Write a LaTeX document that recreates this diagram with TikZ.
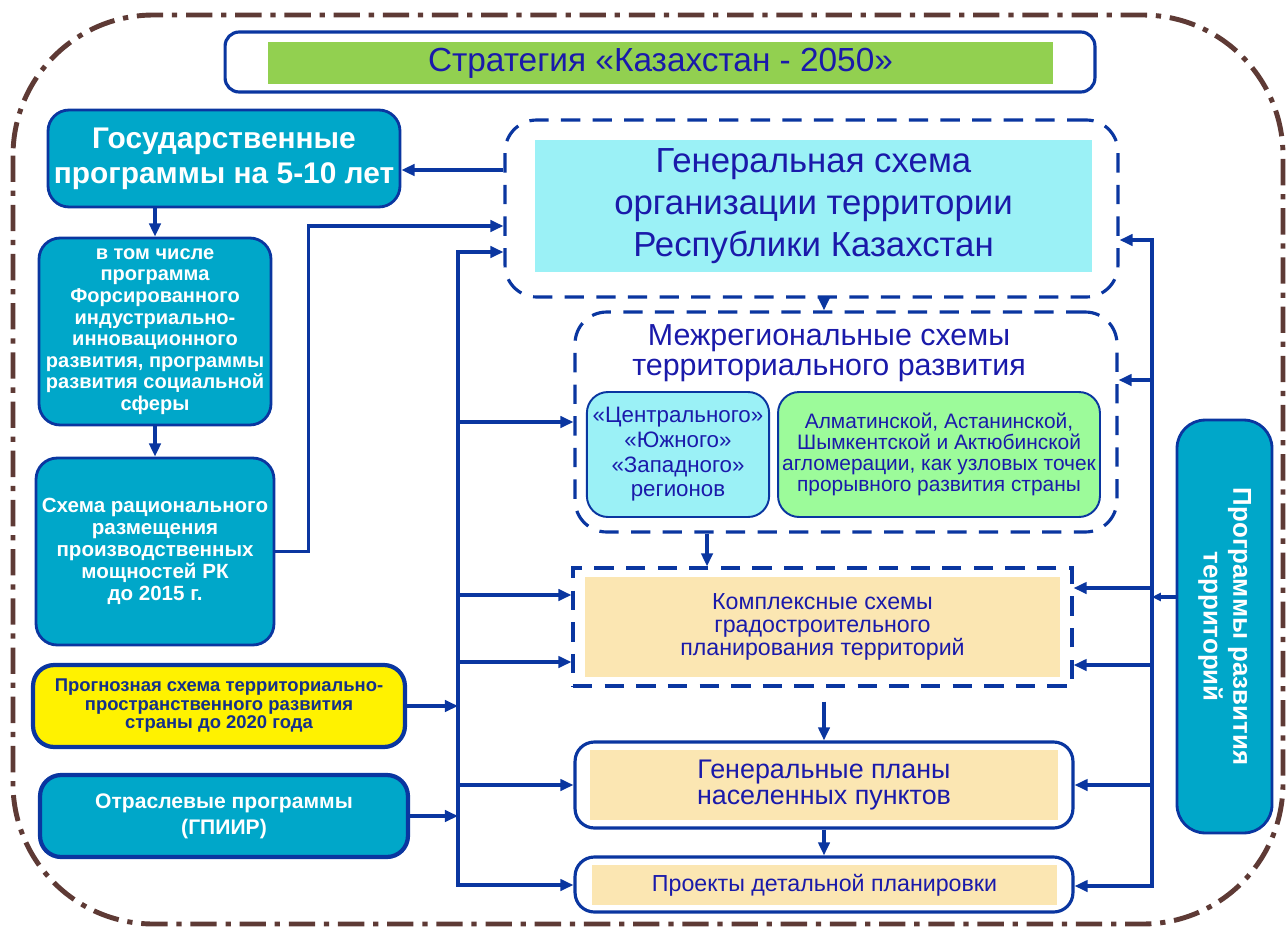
\documentclass[tikz,border=0pt]{standalone}
\usepackage{fontspec}
\usepackage{graphicx}
\setmainfont{Liberation Sans}
\usetikzlibrary{arrows.meta,positioning,calc}
\definecolor{lineblue}{HTML}{0A36A0}
\definecolor{txtblue}{HTML}{1A1AAA}
\definecolor{fcblue}{HTML}{14308A}
\definecolor{progteal}{HTML}{00A7C9}
\definecolor{cyanfill}{HTML}{9BF1F6}
\definecolor{beige}{HTML}{FBE6B2}
\definecolor{agglgreen}{HTML}{9CFB9A}
\definecolor{titlegreen}{HTML}{92D050}
\definecolor{rim}{HTML}{5E3A35}

\begin{document}
\begin{tikzpicture}[x=0.02cm,y=-0.02cm,
    prog/.style={draw=lineblue,line width=1.6pt,fill=progteal,rounded corners=12pt,
                 align=center,text=white,font=\bfseries},
    frame/.style={draw=lineblue,line width=1.8pt,fill=white,rounded corners=10pt},
    dframe/.style={frame,dash pattern=on 11pt off 7pt,rounded corners=18pt},
    inner/.style={fill=beige,align=center,text=txtblue},
    sub/.style={draw=lineblue,line width=1.1pt,rounded corners=12pt,align=center,text=txtblue},
    arr/.style={-{Triangle[length=7.5pt,width=6.5pt]},line width=1.8pt,draw=lineblue}
  ]
    \useasboundingbox (0,0) rectangle (1288,930);
    \draw[rim,line width=2.8pt,dash pattern=on 15pt off 5pt on 3pt off 5pt,rounded corners=80pt]
      (13,15) rectangle (1283,924);

    % top
    \node[frame,rounded corners=8pt,minimum width=17.4cm,minimum height=1.2cm] (titf) at (660,62) {};
    \node[fill=titlegreen,minimum width=15.7cm,minimum height=0.84cm,text=txtblue,
          font=\fontsize{19}{22}\selectfont] (tit) at (660.5,63) {Стратегия «Казахстан - 2050»};

    % left column
    \node[prog,minimum width=7.04cm,minimum height=1.94cm,font=\bfseries\fontsize{17}{20}\selectfont]
      (gos) at (224,158.5) {Государственные\\программы на 5-10 лет};
    \node[prog,minimum width=4.64cm,minimum height=3.74cm,font=\bfseries\fontsize{11.4}{12.3}\selectfont]
      (incl) at (155,331.5) {в том числе\\программа\\Форсированного\\индустриально-\\инновационного\\развития, программы\\развития социальной\\сферы};
    \node[prog,minimum width=4.68cm,minimum height=3.74cm,font=\bfseries\fontsize{11.7}{12.5}\selectfont]
      (srp) at (155,551.5) {Схема рационального\\размещения\\производственных\\мощностей РК\\до 2015 г.};
    \node[prog,fill=yellow,text=fcblue,line width=2.4pt,minimum width=7.44cm,minimum height=1.64cm,
          font=\bfseries\fontsize{10.5}{10.5}\selectfont]
      (fc) at (219,706) {Прогнозная схема территориально-\\пространственного развития\\страны до 2020 года};
    \node[prog,line width=2.4pt,minimum width=7.36cm,minimum height=1.64cm,font=\bfseries\fontsize{12}{15}\selectfont]
      (sec) at (224,816) {Отраслевые программы\\(ГПИИР)};

    % middle column
    \node[dframe,minimum width=12.26cm,minimum height=3.54cm] (gsf) at (811.5,208.5) {};
    \node[inner,fill=cyanfill,minimum width=11.14cm,minimum height=2.64cm,font=\fontsize{19.8}{24}\selectfont]
      (gs) at (813.5,206) {Генеральная схема\\организации территории\\Республики Казахстан};

    \node[dframe,minimum width=10.84cm,minimum height=4.4cm] (irf) at (846,422) {};
    \node[text=txtblue,align=center,font=\fontsize{17.3}{17}\selectfont]
      (ir) at (829,353) {Межрегиональные схемы\\территориального развития};
    \node[sub,fill=cyanfill,minimum width=3.6cm,minimum height=2.5cm,font=\fontsize{12.7}{14}\selectfont]
      (reg) at (678,454.5) {«Центрального»\\«Южного»\\«Западного»\\регионов};
    \node[sub,fill=agglgreen,minimum width=6.44cm,minimum height=2.5cm,inner sep=1pt,font=\fontsize{11.9}{11.8}\selectfont]
      (agl) at (939,454.5) {Алматинской, Астанинской,\\Шымкентской и Актюбинской\\агломерации, как узловых точек\\прорывного развития страны};

    \node[frame,sharp corners,dash pattern=on 11pt off 7pt,minimum width=9.98cm,minimum height=2.36cm]
      (kf) at (822.5,627) {};
    \node[inner,minimum width=9.5cm,minimum height=2cm,font=\fontsize{13.2}{13.3}\selectfont]
      (kp) at (822.5,627) {Комплексные схемы\\градостроительного\\планирования территорий};

    \node[frame,rounded corners=11pt,minimum width=9.96cm,minimum height=1.72cm] (gpf) at (824,785) {};
    \node[inner,minimum width=9.36cm,minimum height=1.4cm,font=\fontsize{15.3}{14.7}\selectfont]
      (gp) at (824,785) {Генеральные планы\\населенных пунктов};

    \node[frame,rounded corners=11pt,minimum width=9.96cm,minimum height=1.1cm] (pdf) at (824,884.5) {};
    \node[inner,minimum width=9.3cm,minimum height=0.8cm,font=\fontsize{13.2}{14}\selectfont]
      (pd) at (824.5,885) {Проекты детальной планировки};

    % right column
    \node[prog,rounded corners=16pt,minimum width=1.9cm,minimum height=8.26cm] (rp) at (1224.5,626.5)
      {\rotatebox{-90}{\fontsize{14.7}{17}\selectfont\begin{tabular}{@{}c@{}}Программы развития\\территорий\end{tabular}}};

    % buses
    \coordinate (lbtop) at (458,252);
    \coordinate (lbbot) at (458,885);
    \coordinate (rbtop) at (1152,240);
    \coordinate (rbbot) at (1152,886);

    \draw[arr] (lbbot) -- (lbtop) -- (lbtop -| gsf.west);
    \draw[arr] (lbtop) -- (lbbot) -- (lbbot -| pdf.west);
    \draw[arr] (irf.west -| lbtop) -- (irf.west);
    \coordinate (kl1) at (458,595);
    \coordinate (kl2) at (458,662);
    \draw[arr] (kl1) -- (kl1 -| kf.west);
    \draw[arr] (kl2) -- (kl2 -| kf.west);
    \draw[arr] (gpf.west -| lbtop) -- (gpf.west);
    \draw[arr] (fc.east) -- (fc.east -| lbtop);
    \draw[arr] (sec.east) -- (sec.east -| lbtop);

    \coordinate (g1) at ([yshift=7.7mm]gsf.west);
    \coordinate (g2) at ([yshift=-3.5mm]gsf.west);
    \draw[arr] (g1) -- (g1 -| gos.east);
    \draw[arr] (srp.east) -- ++(33,0) |- (g2);
    \draw[arr] (incl.north |- gos.south) -- (incl.north);
    \draw[arr] (incl.south) -- (srp.north);

    \draw[arr] (gsf.south -| gpf.north) -- (irf.north -| gpf.north);
    \coordinate (kin) at ([xshift=-27.8mm]irf.south);
    \draw[arr] (kin) -- (kin |- kf.north);
    \coordinate (kout) at ([yshift=-2.8mm]kf.south);
    \draw[arr] (kout -| gpf.north) -- (gpf.north);
    \draw[arr] (gpf.south) -- (pdf.north);

    \draw[arr] (rbbot) -- (rbtop) -- (rbtop -| gsf.east);
    \draw[arr] (rbtop) -- (rbbot) -- (rbbot -| pdf.east);
    \coordinate (rr1) at (1152,380);
    \draw[arr] (rr1) -- (rr1 -| irf.east);
    \coordinate (kr1) at (1152,588);
    \coordinate (kr2) at (1152,665);
    \draw[arr] (kr1) -- (kr1 -| kf.east);
    \draw[arr] (kr2) -- (kr2 -| kf.east);
    \draw[arr] (gpf.east -| rbtop) -- (gpf.east);
    \coordinate (rin) at (1152,597);
    \draw[arr,-{Triangle[length=5pt,width=4.5pt]}] (rin -| rp.west) -- (rin);
  \end{tikzpicture}
\end{document}
